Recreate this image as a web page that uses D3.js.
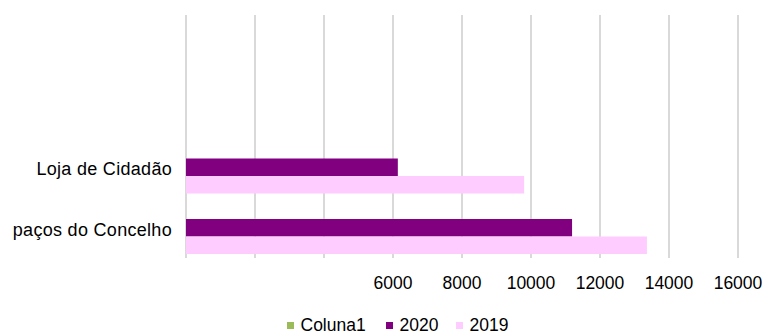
<!DOCTYPE html>
<html>
<head>
<meta charset="utf-8">
<script src="https://cdn.jsdelivr.net/npm/d3@7"></script>
<style>
  html, body { margin: 0; padding: 0; background: #fff; }
  svg text { font-family: "Liberation Sans", Arial, sans-serif; fill: #000; }
</style>
</head>
<body>
<svg id="chart" width="769" height="335"></svg>
<script>
// Categories from top to bottom (the two top slots are empty)
const categories = ["", "", "Loja de Cidadão", "paços do Concelho"];
const seriesNames = ["Coluna1", "2020", "2019"];
const seriesColors = ["#9BBB59", "#800080", "#FFCCFF"];
const coluna1 = [0, 0, 0, 0];
const values2020 = [0, 0, 6140, 11190];
const values2019 = [0, 0, 9800, 13360];
const xTicks = [0, 2000, 4000, 6000, 8000, 10000, 12000, 14000, 16000];
const xTickLabels = ["", "", "", "6000", "8000", "10000", "12000", "14000", "16000"];

const seriesValues = [coluna1, values2020, values2019];

const svg = d3.select("#chart");

const x = d3.scaleLinear().domain([0, 16000]).range([186, 738]);
const y = d3.scaleBand().domain(d3.range(categories.length)).range([16, 258]).padding(0);
const sub = d3.scaleBand().domain(seriesNames).range([4, y.bandwidth() - 4]).padding(0);

// vertical gridlines
svg.append("g").selectAll("line")
  .data(xTicks)
  .join("line")
  .attr("x1", d => x(d)).attr("x2", d => x(d))
  .attr("y1", 15).attr("y2", 258)
  .attr("stroke", "#d9d9d9")
  .attr("stroke-width", 2);

// bars
const rows = [];
categories.forEach((c, i) => {
  seriesNames.forEach((s, j) => {
    rows.push({ cat: i, series: s, value: seriesValues[j][i], color: seriesColors[j] });
  });
});
svg.append("g").selectAll("rect")
  .data(rows.filter(r => r.value > 0))
  .join("rect")
  .attr("x", x(0))
  .attr("y", d => y(d.cat) + sub(d.series))
  .attr("width", d => x(d.value) - x(0))
  .attr("height", sub.bandwidth())
  .attr("fill", d => d.color);

// category labels
svg.append("g").selectAll("text")
  .data(categories.map((c, i) => ({ c, i })).filter(d => d.c))
  .join("text")
  .attr("x", 172)
  .attr("y", d => y(d.i) + y.bandwidth() / 2 + 8)
  .attr("text-anchor", "end")
  .attr("font-size", 18)
  .attr("letter-spacing", "0.3px")
  .text(d => d.c);

// x tick labels
svg.append("g").selectAll("text")
  .data(xTicks.map((t, i) => ({ t, label: xTickLabels[i] })).filter(d => d.label))
  .join("text")
  .attr("x", d => x(d.t))
  .attr("y", 289)
  .attr("text-anchor", "middle")
  .attr("font-size", 17.5)
  .text(d => d.label);

// legend
const legendX = [287, 386, 456];
const legend = svg.append("g").selectAll("g")
  .data(seriesNames.map((s, i) => ({ s, color: seriesColors[i], lx: legendX[i] })))
  .join("g")
  .attr("transform", d => `translate(${d.lx},0)`);
legend.append("rect")
  .attr("x", 0).attr("y", 322)
  .attr("width", 7).attr("height", 7)
  .attr("fill", d => d.color);
legend.append("text")
  .attr("x", 13.5).attr("y", 331)
  .attr("font-size", 17.5)
  .text(d => d.s);
</script>
</body>
</html>
